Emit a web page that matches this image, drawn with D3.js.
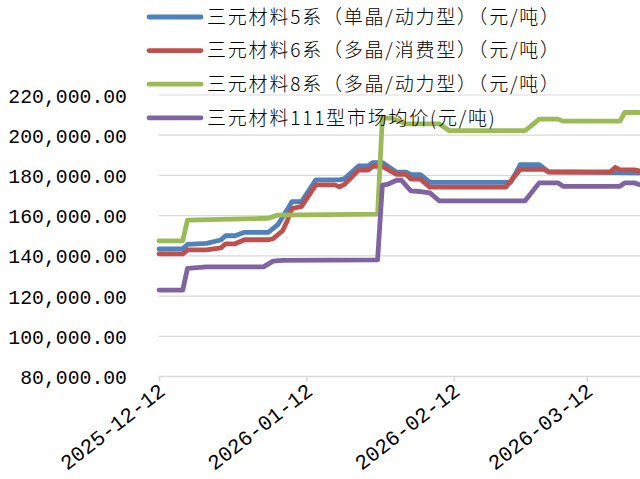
<!DOCTYPE html>
<html>
<head>
<meta charset="utf-8">
<script src="https://cdn.jsdelivr.net/npm/d3@7"></script>
<style>
  html, body { margin: 0; padding: 0; background: #fff; }
  svg { display: block; }
</style>
</head>
<body>
<svg id="chart" width="640" height="479"></svg>
<script>
// Series names
const seriesNames = [
  "三元材料5系（单晶/动力型）（元/吨）",
  "三元材料6系（多晶/消费型）（元/吨）",
  "三元材料8系（多晶/动力型）（元/吨）",
  "三元材料111型市场均价(元/吨)"
];
const seriesColors = ["#4f81bd", "#c0504d", "#9bbb59", "#8064a2"];

// 三元材料5系 price points (date, 元/吨)
const ncm5Dates = ["2025-12-12","2025-12-17","2025-12-18","2025-12-22","2025-12-25","2025-12-26","2025-12-28","2025-12-30",
  "2026-01-04","2026-01-06","2026-01-08","2026-01-09","2026-01-11","2026-01-14","2026-01-19","2026-01-20","2026-01-23",
  "2026-01-25","2026-01-26","2026-01-28","2026-01-31","2026-02-02","2026-02-03","2026-02-05","2026-02-07","2026-02-24",
  "2026-02-26","2026-03-02","2026-03-04","2026-03-23"];
const ncm5Values = [143400,143500,145700,146200,147900,150000,150000,151700,
  151700,155500,163000,167000,167000,177800,177800,178300,184700,
  184700,186400,186400,181600,181600,180400,180400,176500,176500,
  185300,185300,181800,181300];

// 三元材料6系
const ncm6Dates = ["2025-12-12","2025-12-17","2025-12-18","2025-12-22","2025-12-25","2025-12-26","2025-12-28","2025-12-30",
  "2026-01-04","2026-01-05","2026-01-07","2026-01-08","2026-01-09","2026-01-11","2026-01-14","2026-01-18","2026-01-19",
  "2026-01-20","2026-01-23","2026-01-25","2026-01-26","2026-01-28","2026-01-31","2026-02-02","2026-02-03","2026-02-05",
  "2026-02-07","2026-02-23","2026-02-26","2026-03-03","2026-03-04","2026-03-17","2026-03-18","2026-03-19","2026-03-22","2026-03-23"];
const ncm6Values = [141000,141000,143000,143000,144000,146000,146000,148000,
  148000,148500,152500,157500,163500,164600,175300,175300,174300,
  175500,182700,182700,184500,184500,180500,180500,178200,178200,
  174200,174200,183000,183000,181700,181700,184000,182800,182800,182300];

// 三元材料8系
const ncm8Dates = ["2025-12-12","2025-12-17","2025-12-18","2026-01-04","2026-01-06","2026-01-27","2026-01-28","2026-01-30",
  "2026-02-02","2026-02-09","2026-02-11","2026-02-27","2026-02-28","2026-03-02","2026-03-06","2026-03-07","2026-03-19",
  "2026-03-20","2026-03-23"];
const ncm8Values = [147500,147500,157800,158700,160300,160800,208500,208500,
  205600,205600,202300,202300,204000,208000,208000,207000,207000,
  211300,211300];

// 三元材料111型市场均价
const ncm111Dates = ["2025-12-12","2025-12-17","2025-12-18","2025-12-22","2026-01-03","2026-01-05","2026-01-07","2026-01-27",
  "2026-01-28","2026-01-29","2026-01-31","2026-02-01","2026-02-03","2026-02-05","2026-02-07","2026-02-09","2026-02-27",
  "2026-03-02","2026-03-06","2026-03-07","2026-03-19","2026-03-20","2026-03-22","2026-03-23"];
const ncm111Values = [123000,123000,133800,134500,134500,137400,137800,138000,
  175200,175500,177600,177600,172300,172000,171300,167300,167300,
  176300,176300,174600,174600,176300,176300,175500];

// Axis ticks
const xTickDates = ["2025-12-12","2026-01-12","2026-02-12","2026-03-12"];
const yTickValues = [80000,100000,120000,140000,160000,180000,200000,220000];

const parse = d3.timeParse("%Y-%m-%d");
const series = [
  [ncm5Dates, ncm5Values],
  [ncm6Dates, ncm6Values],
  [ncm8Dates, ncm8Values],
  [ncm111Dates, ncm111Values]
].map(([ds, vs], i) => ({
  name: seriesNames[i],
  color: seriesColors[i],
  points: ds.map((d, j) => ({ date: parse(d), value: vs[j] }))
}));

const svg = d3.select("#chart");
svg.append("rect").attr("width", 640).attr("height", 479).attr("fill", "#fff");

const plotLeft = 159, plotTop = 95, plotBottom = 376.5;
const pxPerDay = 427.7 / 90;
const x = d3.scaleTime()
  .domain([parse("2025-12-12"), parse("2026-03-24")])
  .range([plotLeft, plotLeft + 102 * pxPerDay]);
const y = d3.scaleLinear().domain([80000, 220000]).range([plotBottom, plotTop]);

const gridColor = "#d9d9d9";
const numFont = "'Liberation Mono', 'DejaVu Sans Mono', monospace";

// horizontal grid lines
svg.append("g")
  .selectAll("line")
  .data(yTickValues.slice(1))
  .join("line")
  .attr("x1", plotLeft).attr("x2", 640)
  .attr("y1", d => y(d)).attr("y2", d => y(d))
  .attr("stroke", gridColor).attr("stroke-width", 1.2);

// y axis labels
const yAxis = d3.axisLeft(y).tickValues(yTickValues).tickFormat(d3.format(",.2f")).tickSize(0).tickPadding(0);
const yg = svg.append("g").attr("transform", "translate(127,0)").call(yAxis);
yg.select(".domain").remove();
yg.selectAll("text")
  .attr("font-family", numFont).attr("font-size", 19.8).attr("fill", "#000")
  .attr("dy", "0.36em");

// x axis
const xAxis = d3.axisBottom(x)
  .tickValues(xTickDates.map(parse))
  .tickFormat(d3.timeFormat("%Y-%m-%d"))
  .tickSizeInner(5).tickSizeOuter(0).tickPadding(0);
const xg = svg.append("g").attr("transform", `translate(0,${plotBottom})`).call(xAxis);
xg.select(".domain").attr("d", `M${plotLeft},0H640`).attr("stroke", gridColor).attr("stroke-width", 1.5);
xg.selectAll(".tick line").attr("stroke", gridColor).attr("stroke-width", 1.5);
xg.selectAll("text")
  .attr("font-family", numFont).attr("font-size", 21).attr("fill", "#000")
  .attr("text-anchor", "end")
  .attr("dy", 0).attr("y", 0)
  .attr("transform", "translate(7,17) rotate(-38)");

// series lines
const line = d3.line().x(d => x(d.date)).y(d => y(d.value));
svg.append("defs").append("clipPath").attr("id", "plotClip")
  .append("rect").attr("x", 0).attr("y", 0).attr("width", 640).attr("height", 479);
svg.append("g").attr("clip-path", "url(#plotClip)")
  .selectAll("path")
  .data(series)
  .join("path")
  .attr("d", d => line(d.points))
  .attr("fill", "none")
  .attr("stroke", d => d.color)
  .attr("stroke-width", 4.8)
  .attr("stroke-linejoin", "round")
  .attr("stroke-linecap", "round");

// legend
const legend = svg.append("g")
  .selectAll("g")
  .data(series)
  .join("g")
  .attr("transform", (d, i) => `translate(0,${17 + i * 33.6})`);
legend.append("line")
  .attr("x1", 149).attr("x2", 201).attr("y1", 0).attr("y2", 0)
  .attr("stroke", d => d.color).attr("stroke-width", 4.8).attr("stroke-linecap", "round");
legend.append("text")
  .attr("x", 207).attr("y", 0).attr("dy", "0.36em")
  .attr("font-family", "'Noto Sans CJK SC', sans-serif")
  .attr("font-weight", 300)
  .attr("font-size", 19).attr("letter-spacing", 1.8)
  .attr("fill", "#000")
  .text(d => d.name);
</script>
</body>
</html>
